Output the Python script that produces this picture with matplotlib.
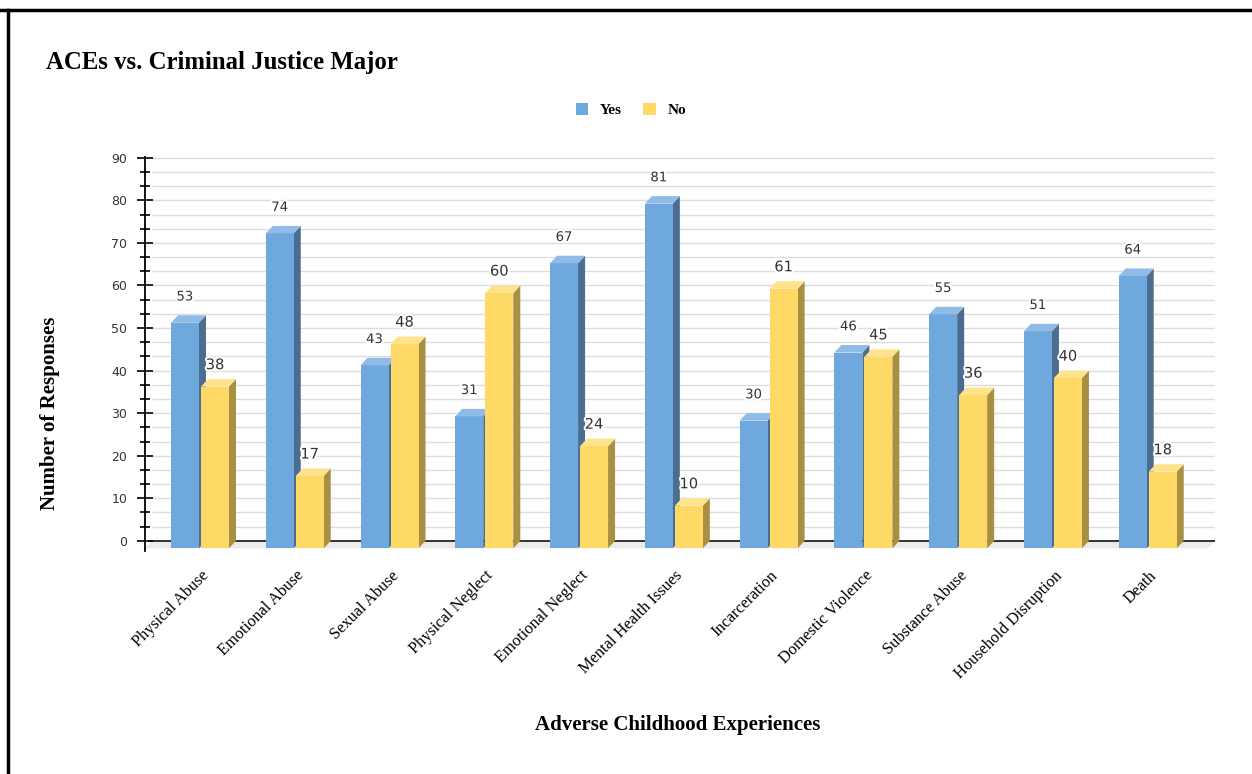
import numpy as np
import matplotlib
matplotlib.use("Agg")
import matplotlib.pyplot as plt
from matplotlib.patches import Polygon
from matplotlib.transforms import ScaledTranslation
import matplotlib.patheffects as pe

#%% data
categories = ["Physical Abuse", "Emotional Abuse", "Sexual Abuse", "Physical Neglect",
              "Emotional Neglect", "Mental Health Issues", "Incarceration",
              "Domestic Violence", "Substance Abuse", "Household Disruption", "Death"]
yes_vals = [53, 74, 43, 31, 67, 81, 30, 46, 55, 51, 64]
no_vals = [38, 17, 48, 60, 24, 10, 61, 45, 36, 40, 18]

# colours: front, top, side
blue = ("#6fa8dc", "#8fbbe6", "#4a6d91")
yellow = ("#ffd966", "#ffe38c", "#a88f42")

#%% figure
fig = plt.figure(figsize=(12.52, 7.74), dpi=100)
ax = fig.add_axes([145/1252, 1-551/774, 1070/1252, 394/774])

x = np.arange(len(categories))
xmin, xmax = -0.58, 10.71
ymin, ymax = -2.4, 90.2
ax.set_xlim(xmin, xmax)
ax.set_ylim(ymin, ymax)

px_x = 1070/(xmax-xmin)   # pixels per x unit
px_y = 394/(ymax-ymin)    # pixels per y unit
dx = 7/px_x
dy = 7.5/px_y
w = 28/px_x
gap = 1/px_x

# back wall grid
grid_y = np.arange(0, 91, 10/3)
ax.hlines(grid_y[1:], xmin+dx, xmax, color="#dddddd", lw=1, zorder=0)

# floor
ax.add_patch(Polygon([(xmin, -dy), (xmax-dx, -dy), (xmax, 0), (xmin+dx, 0)],
                     closed=True, fc="#ebebeb", ec="none", zorder=0.5))
ax.hlines(0, xmin+dx*0.4, xmax, color="#222222", lw=1.3, zorder=0.8)


def bar3d(left, val, cols, label=None):
    front, top, side = cols
    r = left + w
    ax.add_patch(Polygon([(r, -dy), (r+dx, 0), (r+dx, val), (r, val-dy)],
                         closed=True, fc=side, ec="none", zorder=2))
    b = ax.bar(left, val, width=w, bottom=-dy, align="edge", color=front,
               zorder=2, label=label)
    ax.add_patch(Polygon([(left, val-dy), (r, val-dy), (r+dx, val), (left+dx, val)],
                         closed=True, fc=top, ec="none", zorder=2))
    return b


for i in x:
    bar3d(i - gap - w, yes_vals[i], blue, "Yes" if i == 0 else None)
    bar3d(i + gap, no_vals[i], yellow, "No" if i == 0 else None)

# value labels
halo = [pe.withStroke(linewidth=3, foreground="white")]
for i in x:
    ax.annotate(str(yes_vals[i]), (i - gap - w/2, yes_vals[i]), xytext=(0, 8.5),
                textcoords="offset points", ha="center", va="bottom",
                fontsize=9.5, color="#333333", zorder=5, path_effects=halo)
    ax.annotate(str(no_vals[i]), (i + gap + w/2, no_vals[i]), xytext=(0, 5),
                textcoords="offset points", ha="center", va="bottom",
                fontsize=10.5, color="#333333", zorder=5, path_effects=halo)

#%% axes styling
for s in ["top", "right", "bottom"]:
    ax.spines[s].set_visible(False)
ax.spines["left"].set_linewidth(1.3)
ax.set_yticks(np.arange(0, 91, 10))
ax.set_yticks(grid_y, minor=True)
ax.tick_params(axis="y", which="major", direction="inout", length=11.5, width=1.2,
               labelsize=9, labelcolor="#333333", pad=7)
ax.tick_params(axis="y", which="minor", direction="inout", length=7, width=1.2)

ax.set_xticks(x)
ax.set_xticklabels(categories, rotation=45, ha="right", va="top",
                   rotation_mode="anchor", family="Liberation Serif", fontsize=11.8)
ax.tick_params(axis="x", length=0, pad=12)
for lab in ax.get_xticklabels():
    lab.set_transform(lab.get_transform() + ScaledTranslation(0.01, 0, fig.dpi_scale_trans))

ax.set_ylabel("Number of Responses", family="Liberation Serif", fontweight="bold", fontsize=15)
ax.yaxis.set_label_coords(-0.0794, 0.35)
ax.set_xlabel("Adverse Childhood Experiences", family="Liberation Serif", fontweight="bold", fontsize=15)
ax.xaxis.set_label_coords(0.498, -0.416)

fig.text(46/1252, 1-62/774, "ACEs vs. Criminal Justice Major", family="Liberation Serif",
         fontweight="bold", fontsize=17.8, ha="left", va="center")

leg = fig.legend(loc="center", bbox_to_anchor=(0.504, 1-110/774), ncol=2, frameon=False,
                 handlelength=0.8, handleheight=0.8, handletextpad=0.8, columnspacing=1.4,
                 prop={"family": "Liberation Serif", "weight": "bold", "size": 11})

# page border lines
fig.add_artist(plt.Line2D([0, 1], [1-10/774, 1-10/774], color="black", lw=2.5))
fig.add_artist(plt.Line2D([8/1252, 8/1252], [0, 1-10/774], color="black", lw=2.5))

fig.savefig("out.png", dpi=100)
